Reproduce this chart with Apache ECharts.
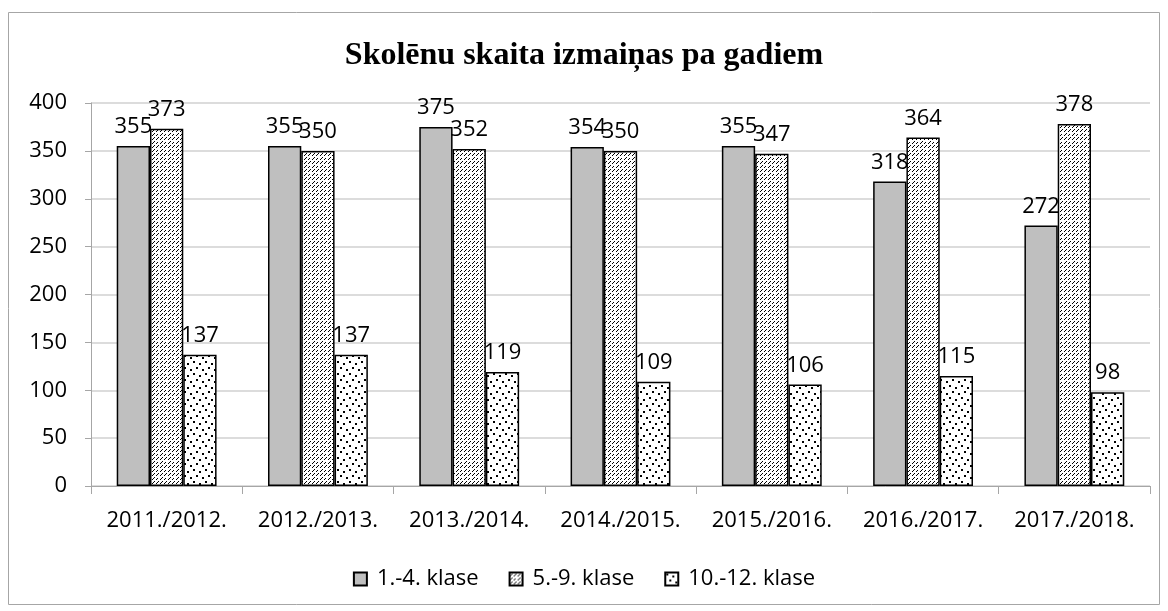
<!DOCTYPE html>
<html>
<head>
<meta charset="utf-8">
<script src="https://cdn.jsdelivr.net/npm/echarts@6/dist/echarts.min.js"></script>
<style>
  html, body { margin: 0; padding: 0; background: #fff; }
  #chart { width: 1168px; height: 611px; }
</style>
</head>
<body>
<div id="chart"></div>
<script>
const years = ['2011./2012.', '2012./2013.', '2013./2014.', '2014./2015.', '2015./2016.', '2016./2017.', '2017./2018.'];
const klase1_4 = [355, 355, 375, 354, 355, 318, 272];
const klase5_9 = [373, 350, 352, 350, 347, 364, 378];
const klase10_12 = [137, 137, 119, 109, 106, 115, 98];

// hatch patterns drawn on small canvases
function diagPattern() {
  const c = document.createElement('canvas');
  c.width = 8; c.height = 8;
  const ctx = c.getContext('2d');
  ctx.fillStyle = '#fff';
  ctx.fillRect(0, 0, 8, 8);
  ctx.fillStyle = '#000';
  // dashed upward diagonal
  ctx.fillRect(0, 7, 1, 1); ctx.fillRect(1, 6, 1, 1); ctx.fillRect(2, 5, 1, 1);
  ctx.fillRect(4, 3, 1, 1); ctx.fillRect(5, 2, 1, 1); ctx.fillRect(6, 1, 1, 1);
  ctx.fillRect(4, 7, 1, 1); ctx.fillRect(5, 6, 1, 1);
  ctx.fillRect(0, 3, 1, 1); ctx.fillRect(1, 2, 1, 1); ctx.fillRect(2, 1, 1, 1);
  return c;
}
function dotPattern() {
  const c = document.createElement('canvas');
  c.width = 12; c.height = 12;
  const ctx = c.getContext('2d');
  ctx.fillStyle = '#fff';
  ctx.fillRect(0, 0, 12, 12);
  ctx.fillStyle = '#000';
  ctx.fillRect(1, 1, 2, 2);
  ctx.fillRect(7, 3, 2, 2);
  ctx.fillRect(4, 7, 2, 2);
  ctx.fillRect(10, 9, 2, 2);
  return c;
}

const chart = echarts.init(document.getElementById('chart'));
const lbl = { show: true, position: 'top', distance: 8, color: '#000', fontFamily: 'Open Sans', fontSize: 22 };
const border = { borderColor: '#000', borderWidth: 1.5 };

chart.setOption({
  animation: false,
  title: {
    text: 'Skolēnu skaita izmaiņas pa gadiem',
    left: 'center',
    top: 35,
    textStyle: { fontFamily: 'Liberation Serif', fontWeight: 'bold', fontSize: 32, color: '#000' }
  },
  graphic: [{
    type: 'rect',
    shape: { x: 8.5, y: 12.5, width: 1151, height: 592 },
    style: { fill: 'none', stroke: '#a6a6a6', lineWidth: 1 },
    silent: true
  }],
  legend: {
    top: 563,
    left: 'center',
    icon: 'rect',
    itemWidth: 13,
    itemHeight: 13,
    itemGap: 30,
    textStyle: { fontFamily: 'Open Sans', fontSize: 22, color: '#000', padding: [0, 0, 0, 5] },
    data: ['1.-4. klase', '5.-9. klase', '10.-12. klase']
  },
  grid: { left: 91, right: 18, top: 103, bottom: 125 },
  xAxis: {
    type: 'category',
    data: years,
    axisLine: { lineStyle: { color: '#a6a6a6', width: 1 } },
    axisTick: { show: true, interval: 0, length: 8, lineStyle: { color: '#a6a6a6' } },
    axisLabel: { interval: 0, hideOverlap: false, color: '#000', fontFamily: 'Open Sans', fontSize: 22, margin: 24 }
  },
  yAxis: {
    type: 'value',
    min: 0,
    max: 400,
    interval: 50,
    axisLine: { show: true, lineStyle: { color: '#a6a6a6' } },
    axisTick: { show: true, length: 6, lineStyle: { color: '#a6a6a6' } },
    splitLine: { lineStyle: { color: '#d0d0d0', width: 1.5 } },
    axisLabel: { color: '#000', fontFamily: 'Open Sans', fontSize: 22, margin: 24 }
  },
  series: [
    {
      name: '1.-4. klase', type: 'bar', data: klase1_4,
      barGap: '0%', barCategoryGap: '34%',
      itemStyle: Object.assign({ color: '#bfbfbf' }, border),
      label: lbl
    },
    {
      name: '5.-9. klase', type: 'bar', data: klase5_9,
      itemStyle: Object.assign({ color: { image: diagPattern(), repeat: 'repeat' } }, border),
      label: lbl
    },
    {
      name: '10.-12. klase', type: 'bar', data: klase10_12,
      itemStyle: Object.assign({ color: { image: dotPattern(), repeat: 'repeat' } }, border),
      label: lbl
    }
  ]
});
</script>
</body>
</html>
